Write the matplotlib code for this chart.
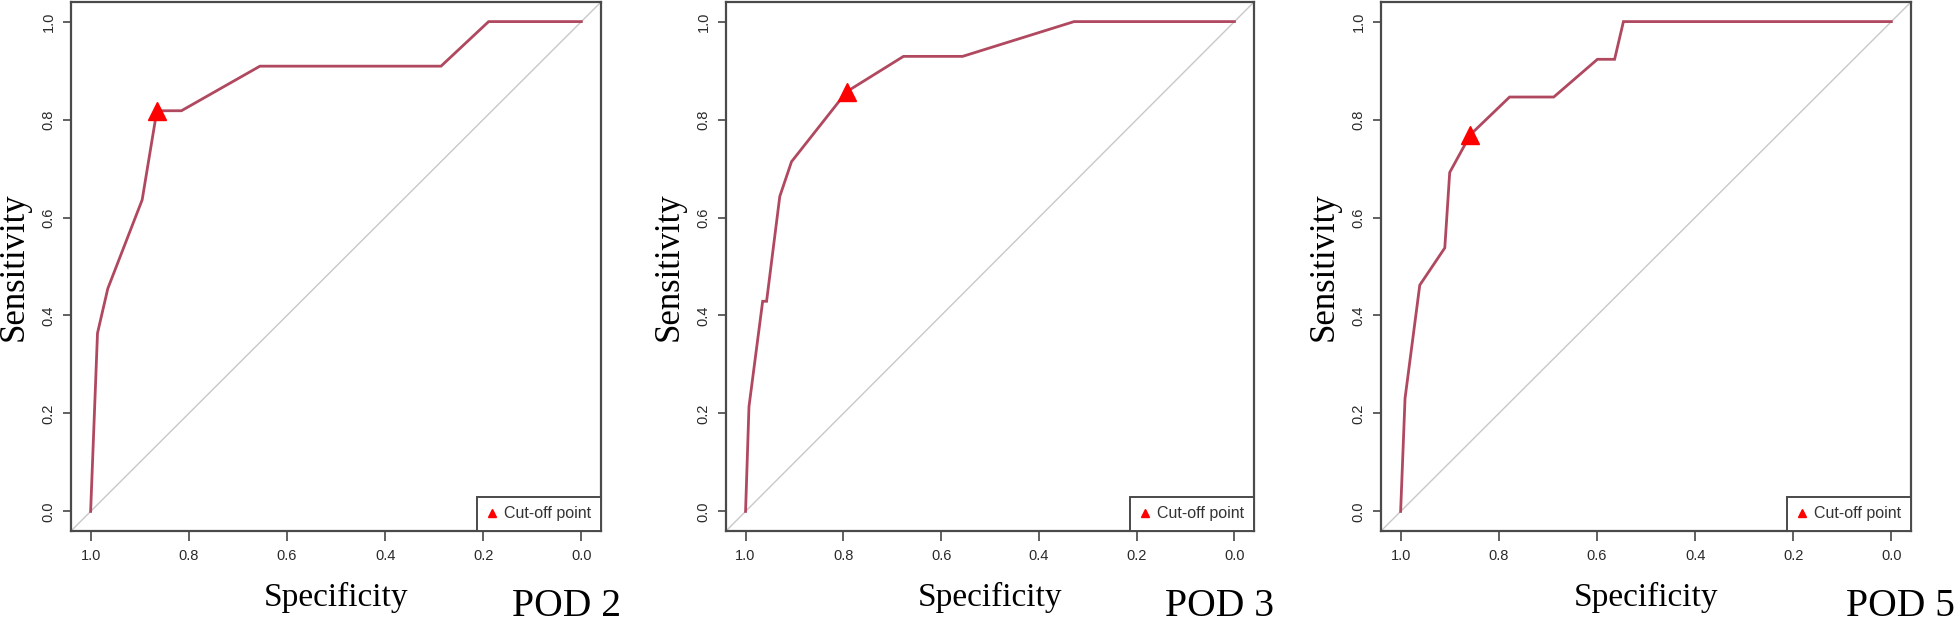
"""ROC curves for POD 2, POD 3 and POD 5 with the chosen cut-off point."""
import matplotlib.pyplot as plt
from matplotlib.lines import Line2D
from matplotlib.ticker import FormatStrFormatter

# ROC curve vertices (specificity runs 1 -> 0)
pod2_spec = [1.0, 0.986, 0.965, 0.895, 0.865, 0.815, 0.655, 0.286, 0.189, 0.0]
pod2_sens = [0.0, 0.364, 0.455, 0.636, 0.818, 0.818, 0.909, 0.909, 1.0, 1.0]

pod3_spec = [1.0, 0.993, 0.965, 0.957, 0.930, 0.906, 0.793, 0.677, 0.556, 0.328, 0.0]
pod3_sens = [0.0, 0.214, 0.429, 0.429, 0.643, 0.714, 0.857, 0.929, 0.929, 1.0, 1.0]

pod5_spec = [1.0, 0.991, 0.961, 0.910, 0.900, 0.858, 0.778, 0.688, 0.599, 0.564, 0.546, 0.0]
pod5_sens = [0.0, 0.231, 0.462, 0.538, 0.692, 0.769, 0.846, 0.846, 0.923, 0.923, 1.0, 1.0]

# cut-off points (specificity, sensitivity)
cutoff_spec = [0.865, 0.793, 0.858]
cutoff_sens = [0.818, 0.857, 0.769]

panel_names = ["POD 2", "POD 3", "POD 5"]
ticks = [1.0, 0.8, 0.6, 0.4, 0.2, 0.0]

# layout in pixels of the 1958x626 canvas
W, H = 1958, 626
axes_x = [(71, 601), (726, 1254), (1381, 1911)]
axes_top, axes_bottom = 2, 531
name_x = [512, 1165, 1846]

curve_color = "#b0485f"
frame_color = "#4a4a4a"
serif = ["Liberation Serif", "DejaVu Serif"]
sans = ["Liberation Sans", "DejaVu Sans"]

plt.rcParams["font.family"] = sans

fig = plt.figure(figsize=(W / 100, H / 100), dpi=100)

curves = [(pod2_spec, pod2_sens), (pod3_spec, pod3_sens), (pod5_spec, pod5_sens)]
for i, (spec, sens) in enumerate(curves):
    x0, x1 = axes_x[i]
    rect = [x0 / W, 1 - axes_bottom / H, (x1 - x0) / W, (axes_bottom - axes_top) / H]
    ax = fig.add_axes(rect)

    # chance line from corner to corner
    ax.plot([1.04, -0.04], [-0.04, 1.04], color="#c8c8c8", lw=1.0, zorder=1)
    ax.plot(spec, sens, color=curve_color, lw=2.0, solid_joinstyle="miter", zorder=2)
    ax.plot(cutoff_spec[i], cutoff_sens[i], marker="^", color="#ff0000",
            markersize=13, linestyle="none", zorder=3)

    ax.set_xlim(1.04, -0.04)
    ax.set_ylim(-0.04, 1.04)
    ax.set_xticks(ticks)
    ax.set_yticks(ticks)
    ax.xaxis.set_major_formatter(FormatStrFormatter("%.1f"))
    ax.yaxis.set_major_formatter(FormatStrFormatter("%.1f"))
    ax.tick_params(axis="x", length=7, width=1.3, color="#555555",
                   labelsize=10.5, labelcolor="#2a2a2a", pad=6)
    ax.tick_params(axis="y", length=6, width=1.3, color="#555555",
                   labelsize=10.5, labelcolor="#2a2a2a", pad=5)
    for lab in ax.get_yticklabels():
        lab.set_rotation(90)
        lab.set_va("center")

    for sp in ax.spines.values():
        sp.set_color(frame_color)
        sp.set_linewidth(1.6)

    # cosmetics
    ax.set_xlabel("Specificity", family=serif, fontsize=24)
    ax.xaxis.set_label_coords(0.5, -0.142)
    ax.xaxis.label.set_va("baseline")
    ax.set_ylabel("Sensitivity", family=serif, fontsize=25)
    ax.yaxis.set_label_coords(-0.108, 0.5)
    ax.yaxis.label.set_va("center")

    handle = Line2D([], [], marker="^", color="#ff0000", linestyle="none", markersize=6)
    leg = ax.legend([handle], ["Cut-off point"], loc="lower right",
                    bbox_to_anchor=(1, 0), borderaxespad=0, fontsize=11.5,
                    fancybox=False, framealpha=1, edgecolor=frame_color,
                    borderpad=0.6, handlelength=0.6, handletextpad=0.5)
    leg.get_frame().set_linewidth(1.4)
    for t in leg.get_texts():
        t.set_color("#333333")

    fig.text(name_x[i] / W, 0.001, panel_names[i], family=serif,
             fontsize=28.5, ha="left", va="bottom")

fig.savefig("out.png", dpi=100)
